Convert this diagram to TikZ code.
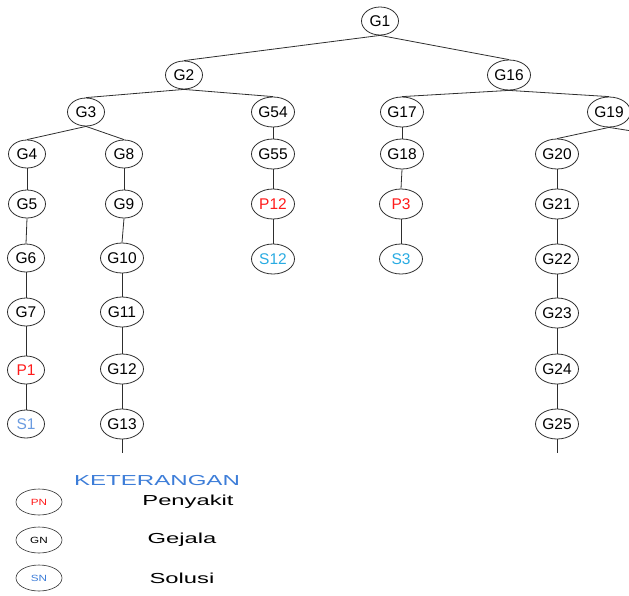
\documentclass[tikz,border=0pt]{standalone}
\usepackage{fontspec}
\setmainfont{Liberation Sans}
\usetikzlibrary{shapes.geometric}
\definecolor{penred}{HTML}{FF1A1A}
\definecolor{solblue}{HTML}{6A9BE0}
\definecolor{solsky}{HTML}{29ABE2}
\definecolor{legblue}{HTML}{3D7DD8}
\definecolor{edgegray}{HTML}{2E2E2E}
\tikzset{
  nd/.style={ellipse, draw=edgegray, line width=0.8pt, inner sep=0pt,
    minimum width=37pt, minimum height=28pt, font=\fontsize{15.5}{17}\selectfont},
  ndw/.style={nd, minimum width=43pt, minimum height=30pt},
  pen/.style={text=penred},
  solA/.style={text=solblue},
  solB/.style={text=solsky},
  link/.style={draw=edgegray, line width=0.8pt},
  legnode/.style={ellipse, draw=edgegray, line width=0.6pt, inner sep=0pt,
    minimum width=46pt, minimum height=26pt, font=\fontsize{9}{10}\selectfont},
  legtext/.style={inner sep=0pt, font=\fontsize{14.5}{16}\selectfont}
}
\begin{document}
\begin{tikzpicture}[x=1pt, y=-1pt]
\useasboundingbox (0,0) rectangle (629,595);
\clip (0,0) rectangle (629,595);
% tree nodes
\node[nd]  (G1)  at (380,21)  {G1};
\node[nd]  (G2)  at (184,75)  {G2};
\node[ndw] (G16) at (509,75)  {G16};
\node[nd]  (G3)  at (86,112)  {G3};
\node[ndw] (G54) at (273,112) {G54};
\node[ndw] (G17) at (402,112) {G17};
\node[ndw] (G19) at (609,112) {G19};
\node[nd]  (G4)  at (27,154)  {G4};
\node[nd]  (G8)  at (124,154) {G8};
\node[ndw] (G55) at (273,154) {G55};
\node[ndw] (G18) at (402,154) {G18};
\node[ndw] (G20) at (557,154) {G20};
\node[nd]  (G5)  at (27,204)  {G5};
\node[nd]  (G9)  at (124,204) {G9};
\node[ndw,pen] (P12) at (273,204) {P12};
\node[ndw,pen] (P3)  at (401,204) {P3};
\node[ndw] (G21) at (557,204) {G21};
\node[nd]  (G6)  at (26,258)  {G6};
\node[ndw] (G10) at (122,258) {G10};
\node[ndw,solB] (S12) at (273,259) {S12};
\node[ndw,solB] (S3)  at (401,259) {S3};
\node[ndw] (G22) at (557,259) {G22};
\node[nd]  (G7)  at (26,312)  {G7};
\node[ndw] (G11) at (122,312) {G11};
\node[ndw] (G23) at (557,313) {G23};
\node[nd,pen] (P1) at (26,370) {P1};
\node[ndw] (G12) at (122,369) {G12};
\node[ndw] (G24) at (557,369) {G24};
\node[nd,solA] (S1) at (26,424) {S1};
\node[ndw] (G13) at (122,424) {G13};
\node[ndw] (G25) at (557,424) {G25};
% open ends of branches that continue
\coordinate (e13) at (122,453);
\coordinate (e25) at (557,453);
\coordinate (e19) at (632,131);
% connectors
\foreach \a/\b in {G1/G2, G1/G16, G2/G3, G2/G54, G16/G17, G16/G19,
  G3/G4, G3/G8, G54/G55, G17/G18, G19/G20,
  G4/G5, G5/G6, G6/G7, G7/P1, P1/S1,
  G8/G9, G9/G10, G10/G11, G11/G12, G12/G13,
  G55/P12, P12/S12, G18/P3, P3/S3,
  G20/G21, G21/G22, G22/G23, G23/G24, G24/G25}
  \draw[link] (\a.south) -- (\b.north);
\draw[link] (G13.south) -- (e13);
\draw[link] (G25.south) -- (e25);
\draw[link] (G19.south) -- (e19);
% legend
\node[legtext, text=legblue] (ket) at (157,480) {\scalebox{1.66}[1]{KETERANGAN}};
\node[legnode, text=penred]  (lp) at (39,502) {\scalebox{1.3}[1]{PN}};
\node[legnode]               (lg) at (39,540) {\scalebox{1.3}[1]{GN}};
\node[legnode, text=legblue] (ls) at (39,578) {\scalebox{1.3}[1]{SN}};
\node[legtext] (tp) at (188,502) {\scalebox{1.64}[1]{Penyakit}};
\node[legtext] (tg) at (182,540) {\scalebox{1.64}[1]{Gejala}};
\node[legtext] (ts) at (182,578) {\scalebox{1.64}[1]{Solusi}};
\end{tikzpicture}
\end{document}
